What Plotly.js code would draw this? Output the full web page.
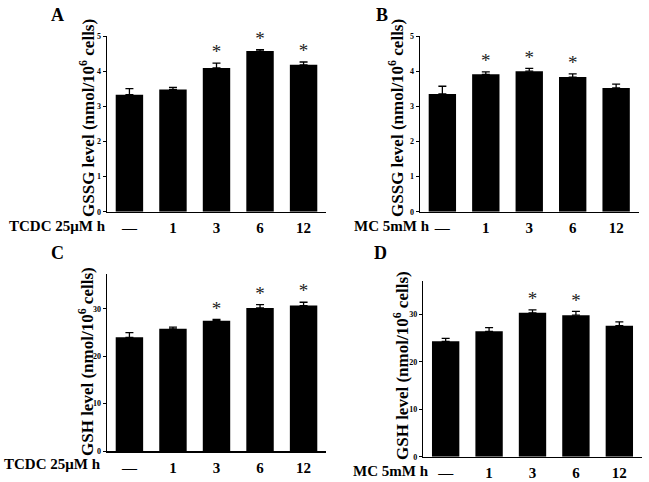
<!DOCTYPE html>
<html>
<head>
<meta charset="utf-8">
<script src="https://cdn.plot.ly/plotly-3.0.1.min.js"></script>
<style>html,body{margin:0;padding:0;background:#fff;}#chart{width:649px;height:482px;}</style>
</head>
<body>
<div id="chart"></div>
<script>
// ---- data ----
const categories = ['—', '1', '3', '6', '12'];
const gssgTCDC    = [3.33, 3.48, 4.09, 4.57, 4.18];
const gssgTCDCErr = [0.17, 0.06, 0.14, 0.04, 0.08];
const gssgTCDCSig = [false, false, true, true, true];
const gssgMC      = [3.35, 3.91, 4.00, 3.83, 3.52];
const gssgMCErr   = [0.22, 0.07, 0.08, 0.09, 0.11];
const gssgMCSig   = [false, true, true, true, false];
const gshTCDC     = [24.0, 25.8, 27.5, 30.2, 30.7];
const gshTCDCErr  = [1.0, 0.35, 0.3, 0.7, 0.7];
const gshTCDCSig  = [false, false, true, true, true];
const gshMC       = [24.3, 26.4, 30.3, 29.8, 27.6];
const gshMCErr    = [0.6, 0.8, 0.6, 0.8, 0.8];
const gshMCSig    = [false, false, true, true, false];
const panelLetters = ['A', 'B', 'C', 'D'];
const treatLabels = ['TCDC 25μM h', 'MC 5mM h', 'TCDC 25μM h', 'MC 5mM h'];
const yTitles = ['GSSG level (nmol/10<sup>6</sup> cells)', 'GSSG level (nmol/10<sup>6</sup> cells)',
                 'GSH level (nmol/10<sup>6</sup> cells)', 'GSH level (nmol/10<sup>6</sup> cells)'];

const W = 649, H = 482;
const FONT = '"Liberation Serif", "Times New Roman", serif';
const panels = [
  {vals: gssgTCDC, err: gssgTCDCErr, sig: gssgTCDCSig, px: [107, 326], py: [211.7, 36], yr: [0, 5], dt: 1,
   letter: [57, 15], ylab: [87, 118], tlab: [57, 226]},
  {vals: gssgMC, err: gssgMCErr, sig: gssgMCSig, px: [420, 638.5], py: [211.7, 36], yr: [0, 5], dt: 1,
   letter: [382, 15], ylab: [396, 118], tlab: [392, 226]},
  {vals: gshTCDC, err: gshTCDCErr, sig: gshTCDCSig, px: [107, 326], py: [451, 274.3], yr: [0, 37.3], dt: 10,
   letter: [57, 253], ylab: [86, 362], tlab: [53, 464]},
  {vals: gshMC, err: gshMCErr, sig: gshMCSig, px: [423.3, 641.7], py: [456.7, 281], yr: [0, 37], dt: 10,
   letter: [380, 253], ylab: [401, 366], tlab: [391, 471]}
];

const data = [];
const layout = {
  width: W, height: H, margin: {l: 0, r: 0, t: 0, b: 0},
  paper_bgcolor: '#fff', plot_bgcolor: '#fff', showlegend: false,
  font: {family: FONT, color: '#000'},
  annotations: []
};

panels.forEach((p, i) => {
  const n = i === 0 ? '' : String(i + 1);
  const xa = 'x' + n, ya = 'y' + n;
  const idx = categories.map((c, k) => k);
  data.push({
    type: 'bar', x: idx, y: p.vals, xaxis: xa, yaxis: ya, width: 0.63,
    marker: {color: '#000', line: {width: 0}},
    error_y: {type: 'data', array: p.err, arrayminus: p.err.map(() => 0), symmetric: false,
              color: '#000', thickness: 1.3, width: 4},
    hoverinfo: 'skip'
  });
  const sx = [], sy = [];
  p.sig.forEach((s, k) => { if (s) { sx.push(k); sy.push(p.vals[k] + p.err[k]); } });
  data.push({
    type: 'scatter', mode: 'text', x: sx, y: sy, xaxis: xa, yaxis: ya, cliponaxis: false,
    text: sx.map(() => '*'), textposition: 'top center',
    textfont: {family: FONT, size: 19, color: '#222'}, hoverinfo: 'skip'
  });
  layout['xaxis' + n] = {
    domain: [p.px[0] / W, p.px[1] / W], anchor: ya, range: [-0.515, 4.515],
    tickvals: idx, ticktext: categories, ticks: '', showgrid: false, zeroline: false,
    showline: true, linecolor: '#000', linewidth: 1.5,
    tickfont: {family: FONT, size: 15, color: '#000', weight: 'bold'}, ticklabelstandoff: 2,
    fixedrange: true
  };
  layout['yaxis' + n] = {
    domain: [1 - p.py[0] / H, 1 - p.py[1] / H], anchor: xa, range: p.yr, dtick: p.dt, tick0: 0,
    ticks: 'outside', ticklen: 3, tickwidth: 1, tickcolor: '#000', showgrid: false, zeroline: false,
    showline: true, linecolor: '#000', linewidth: 1.5,
    tickfont: {family: FONT, size: 8, color: '#000', weight: 'bold'}, fixedrange: true
  };
  layout.annotations.push({
    xref: 'paper', yref: 'paper', x: p.letter[0] / W, y: 1 - p.letter[1] / H,
    text: panelLetters[i], showarrow: false, xanchor: 'center', yanchor: 'middle',
    font: {family: FONT, size: 18, color: '#000', weight: 'bold'}
  });
  layout.annotations.push({
    xref: 'paper', yref: 'paper', x: p.ylab[0] / W, y: 1 - p.ylab[1] / H,
    text: yTitles[i], textangle: -90, showarrow: false, xanchor: 'center', yanchor: 'middle',
    font: {family: FONT, size: 17, color: '#000', weight: 'bold'}
  });
  layout.annotations.push({
    xref: 'paper', yref: 'paper', x: p.tlab[0] / W, y: 1 - p.tlab[1] / H,
    text: treatLabels[i], showarrow: false, xanchor: 'center', yanchor: 'middle',
    font: {family: FONT, size: 15, color: '#000', weight: 'bold'}
  });
});

Plotly.newPlot('chart', data, layout, {displayModeBar: false, staticPlot: true});
</script>
</body>
</html>
